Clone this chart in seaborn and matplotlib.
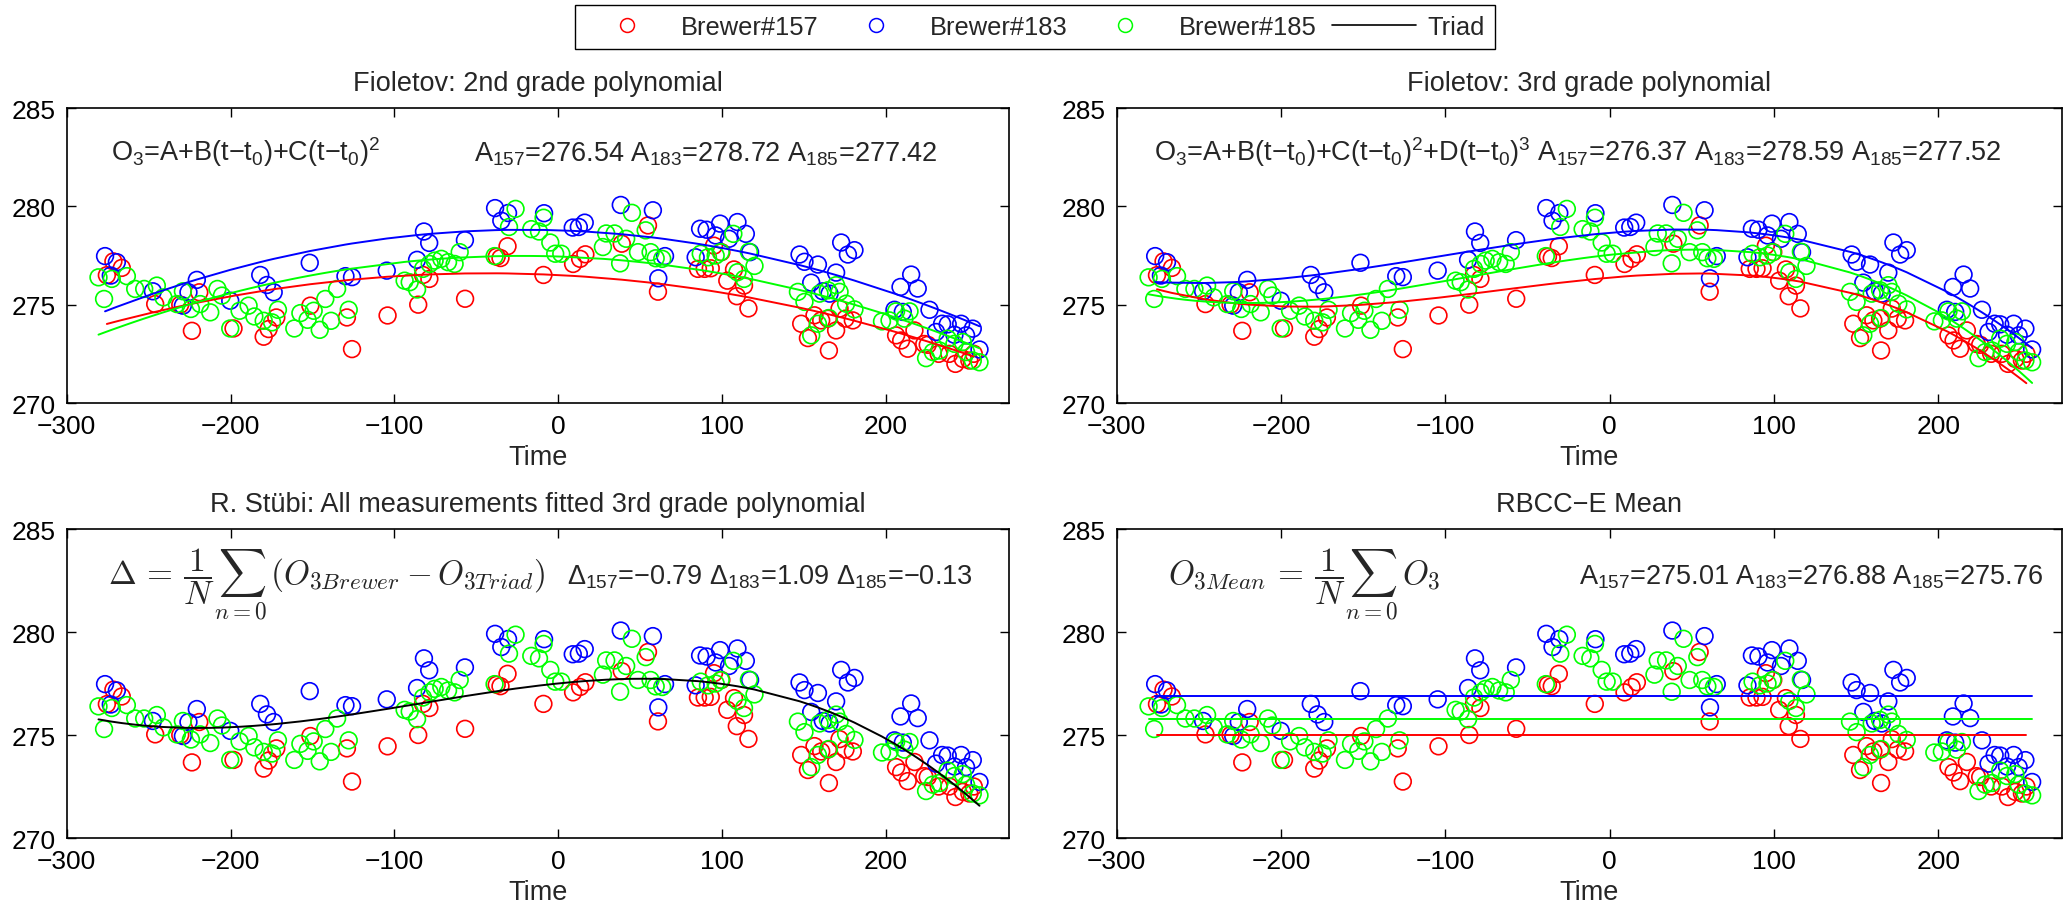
import numpy as np
import matplotlib
matplotlib.use("Agg")
import matplotlib.pyplot as plt
import seaborn as sns
from matplotlib.lines import Line2D

# ----------------------------
# Data
# ----------------------------

t_157 = [-275.5, -271.5, -266.4, -246.0, -230.7, -223.6, -219.1, -198.2, -179.8, -176.8,
         -172.1, -151.3, -129.0, -125.9, -104.2, -85.5, -82.6, -78.7, -56.9, -37.6,
         -35.3, -31.0, -9.1, 9.0, 13.3, 16.5, 38.7, 54.7, 60.8, 85.2,
         89.3, 93.0, 95.0, 99.5, 103.1, 107.2, 108.9, 113.3, 116.0, 148.2,
         152.3, 156.3, 160.4, 164.5, 165.1, 169.5, 171.6, 175.2, 179.7, 206.1,
         209.2, 213.2, 217.3, 223.3, 225.4, 232.1, 238.6, 242.3, 246.8, 250.8,
         253.5]
o3_157 = [276.50, 277.20, 276.87, 275.03, 275.00, 273.67, 275.63, 273.79, 273.37, 273.76,
          274.35, 274.95, 274.35, 272.74, 274.45, 275.00, 276.51, 276.31, 275.30, 277.44,
          277.37, 277.97, 276.51, 277.07, 277.33, 277.56, 278.10, 279.03, 275.66, 276.82,
          276.82, 276.85, 278.00, 277.67, 276.22, 276.79, 275.43, 275.97, 274.81, 274.03,
          273.30, 274.46, 274.20, 274.29, 272.67, 273.69, 274.80, 274.29, 274.20, 273.44,
          273.18, 272.76, 273.69, 273.00, 272.96, 272.50, 272.50, 271.99, 272.24, 272.16,
          272.50]

t_183 = [-276.6, -273.1, -269.4, -247.4, -229.1, -225.7, -220.6, -200.2, -181.9, -177.8,
         -173.7, -151.7, -129.9, -125.9, -104.7, -86.2, -82.0, -78.8, -57.0, -38.6,
         -34.8, -30.7, -8.7, 8.8, 12.5, 16.1, 38.1, 57.7, 61.0, 65.1,
         83.8, 86.5, 90.5, 96.0, 98.7, 104.2, 109.3, 114.4, 117.0, 147.2,
         150.2, 154.3, 158.4, 161.4, 165.5, 169.5, 172.6, 176.7, 180.7, 205.1,
         208.8, 210.2, 215.3, 219.3, 226.5, 230.5, 234.2, 237.6, 241.7, 245.8,
         248.8, 252.9, 257.0]
o3_183 = [277.47, 276.48, 277.16, 275.68, 274.95, 275.63, 276.26, 275.20, 276.51, 276.00,
          275.63, 277.13, 276.45, 276.40, 276.73, 277.28, 278.72, 278.14, 278.28, 279.91,
          279.27, 279.66, 279.65, 278.92, 278.95, 279.17, 280.07, 279.80, 276.34, 277.47,
          277.41, 278.86, 278.81, 278.52, 279.12, 278.35, 279.20, 278.60, 277.67, 277.55,
          277.18, 276.12, 277.04, 275.68, 275.56, 276.63, 278.16, 277.55, 277.77, 274.74,
          275.90, 274.63, 276.53, 275.82, 274.74, 273.61, 274.03, 274.00, 273.47, 274.03,
          273.44, 273.78, 272.72]

t_185 = [-280.6, -277.2, -272.5, -263.3, -258.2, -252.7, -245.0, -241.0, -232.8, -229.1,
         -224.2, -218.5, -212.4, -208.0, -205.3, -200.2, -194.5, -189.0, -185.5, -179.8,
         -174.7, -171.1, -161.1, -157.4, -153.0, -149.3, -145.6, -142.2, -138.7, -135.0,
         -127.9, -93.8, -90.7, -86.2, -82.6, -78.5, -75.5, -71.4, -67.3, -63.3,
         -60.2, -38.9, -30.1, -26.1, -16.5, -11.8, -9.0, -4.9, -1.9, 1.8,
         27.2, 29.2, 34.3, 37.7, 41.4, 44.9, 48.6, 53.3, 56.3, 59.4,
         63.4, 86.9, 91.3, 96.0, 99.1, 106.8, 109.3, 113.3, 116.3, 119.7,
         146.2, 150.2, 154.3, 158.4, 159.4, 164.5, 165.1, 169.5, 171.6, 175.6,
         180.7, 197.5, 202.1, 206.1, 211.2, 214.3, 224.4, 228.5, 232.6, 237.6,
         241.7, 246.8, 248.8, 252.9, 257.0]
o3_185 = [276.39, 275.29, 276.31, 276.45, 275.80, 275.80, 275.97, 275.37, 275.03, 275.68,
          274.78, 275.03, 274.61, 275.80, 275.46, 273.79, 274.69, 274.95, 274.40, 274.18,
          274.10, 274.74, 273.79, 274.57, 274.23, 274.69, 273.72, 275.29, 274.18, 275.80,
          274.74, 276.22, 276.14, 275.77, 276.82, 277.07, 277.24, 277.33, 277.16, 277.07,
          277.67, 277.47, 278.95, 279.87, 278.84, 278.72, 279.42, 278.16, 277.59, 277.59,
          277.93, 278.62, 278.62, 277.10, 278.35, 279.67, 277.67, 278.78, 277.67, 277.36,
          277.33, 277.59, 277.41, 277.50, 277.67, 278.60, 276.65, 276.31, 277.69, 276.97,
          275.65, 275.14, 273.44, 274.03, 275.56, 275.73, 274.32, 275.99, 275.65, 275.05,
          274.76, 274.15, 274.20, 274.66, 274.29, 274.66, 272.28, 272.59, 272.67, 273.27,
          273.01, 273.10, 272.59, 272.16, 272.07]

brewers = ["157", "183", "185"]
colors = ["#ff0000", "#0000ff", "#00ff00"]

# values printed on the panels
a_poly2 = [276.54, 278.72, 277.42]
a_poly3 = [276.37, 278.59, 277.52]
delta_triad = [-0.79, 1.09, -0.13]
a_mean = [275.01, 276.88, 275.76]

titles = ["Fioletov: 2nd grade polynomial",
          "Fioletov: 3rd grade polynomial",
          "R. Stübi: All measurements fitted 3rd grade polynomial",
          "RBCC\u2212E Mean"]

times = [np.array(t_157), np.array(t_183), np.array(t_185)]
values = [np.array(o3_157), np.array(o3_183), np.array(o3_185)]

# ----------------------------
# Style
# ----------------------------

sns.set_style("ticks")
plt.rcParams["font.family"] = ["Liberation Sans", "DejaVu Sans"]
plt.rcParams["mathtext.fontset"] = "custom"
plt.rcParams["mathtext.rm"] = "Liberation Sans"
plt.rcParams["mathtext.it"] = "Liberation Sans:italic"
plt.rcParams["mathtext.bf"] = "Liberation Sans:bold"
plt.rcParams["axes.unicode_minus"] = True

FS = 19.5      # annotations, titles
TS = 19        # tick labels
LS = 18.4      # legend
MS = 24        # latex formulas

fig = plt.figure(figsize=(20.67, 9.12), dpi=100)

W, H = 2067.0, 912.0
col_x = [(66.7, 1009.0), (1116.7, 2061.7)]
row_y = [(109.0, 404.0), (530.0, 839.0)]

axes = []
for r in range(2):
    for c in range(2):
        x0, x1 = col_x[c]
        y0, y1 = row_y[r]
        ax = fig.add_axes([x0 / W, 1 - y1 / H, (x1 - x0) / W, (y1 - y0) / H])
        axes.append(ax)


def draw_points(ax):
    for t, o3, col in zip(times, values, colors):
        sns.scatterplot(x=t, y=o3, ax=ax, s=145, marker="o",
                        facecolors="none", edgecolor=col, linewidth=1.2,
                        legend=False, zorder=2)


def draw_fit(ax, t, o3, deg, col):
    tt = np.sort(t)
    coef = np.polyfit(t, o3, deg)
    sns.lineplot(x=tt, y=np.polyval(coef, tt), ax=ax, color=col,
                 linewidth=1.4, estimator=None, sort=False, zorder=3)


def sub(s):
    return r"$_{\mathregular{" + s + "}}$"


def num(v):
    return ("%.2f" % v).replace("-", "\u2212")


poly_txt = "O" + sub("3") + "=A+B(t\u2212t" + sub("0") + ")+C(t\u2212t" + sub("0") + ")$^{\\mathregular{2}}$"
BASE = 282.35

# ----------------------------
# Panel 1: 2nd grade polynomial
# ----------------------------

ax = axes[0]
draw_points(ax)
for t, o3, col in zip(times, values, colors):
    draw_fit(ax, t, o3, 2, col)
ax.text(-273, BASE, poly_txt, fontsize=FS, va="baseline")
ax.text(-51.6, BASE, " ".join("A" + sub(b) + "=" + num(a) for b, a in zip(brewers, a_poly2)),
        fontsize=FS, va="baseline")

# ----------------------------
# Panel 2: 3rd grade polynomial
# ----------------------------

ax = axes[1]
draw_points(ax)
for t, o3, col in zip(times, values, colors):
    draw_fit(ax, t, o3, 3, col)
ax.text(-277, BASE,
        poly_txt + "+D(t\u2212t" + sub("0") + ")$^{\\mathregular{3}}$ "
        + " ".join("A" + sub(b) + "=" + num(a) for b, a in zip(brewers, a_poly3)),
        fontsize=FS, va="baseline")

# ----------------------------
# Panel 3: Triad, all measurements
# ----------------------------

ax = axes[2]
draw_points(ax)
t_all = np.concatenate(times)
o3_all = np.concatenate(values)
draw_fit(ax, t_all, o3_all, 3, "black")
ax.text(-275, BASE, r"$\Delta\,=\,\dfrac{1}{N}\sum_{n=0}\,(O_{3Brewer} - O_{3Triad})$",
        fontsize=MS, va="baseline", math_fontfamily="cm")
ax.text(252.6, BASE, " ".join("\u0394" + sub(b) + "=" + num(d) for b, d in zip(brewers, delta_triad)),
        fontsize=FS, va="baseline", ha="right")

# ----------------------------
# Panel 4: mean
# ----------------------------

ax = axes[3]
draw_points(ax)
for t, a, col in zip(times, a_mean, colors):
    sns.lineplot(x=[t.min(), t.max()], y=[a, a], ax=ax, color=col,
                 linewidth=1.4, estimator=None, zorder=3)
ax.text(-268.8, BASE, r"$O_{3Mean}\,=\,\dfrac{1}{N}\sum_{n=0}\,O_3$",
        fontsize=MS, va="baseline", math_fontfamily="cm")
ax.text(264, BASE, " ".join("A" + sub(b) + "=" + num(a) for b, a in zip(brewers, a_mean)),
        fontsize=FS, va="baseline", ha="right")

# ----------------------------
# Axes formatting
# ----------------------------

for ax, title in zip(axes, titles):
    ax.set_xlim(-300, 275)
    ax.set_ylim(270, 285)
    ax.set_xticks(np.arange(-300, 201, 100))
    ax.set_yticks([270, 275, 280, 285])
    ax.tick_params(direction="in", top=True, right=True, length=6.5, width=1,
                   labelsize=TS, pad=8, colors="black")
    for sp in ax.spines.values():
        sp.set_linewidth(1.2)
        sp.set_color("black")
    ax.set_xlabel("Time", fontsize=FS, labelpad=4)
    ax.set_ylabel("")
    ax.set_title(title, fontsize=FS, pad=13)

# ----------------------------
# Legend
# ----------------------------

handles = [Line2D([], [], marker="o", linestyle="none", markerfacecolor="none",
                  markeredgecolor=col, markersize=10, markeredgewidth=1.1) for col in colors]
handles.append(Line2D([], [], color="black", linewidth=1.2))
labels = ["Brewer#" + b for b in brewers] + ["Triad"]

leg = fig.legend(handles, labels, loc="upper center", bbox_to_anchor=(0.5007, 1 - 6 / H),
                 ncol=4, fontsize=LS, frameon=True, fancybox=False, handlelength=3.3,
                 handletextpad=0.45, columnspacing=0.6, borderpad=0.4, borderaxespad=0)
leg.get_frame().set_edgecolor("black")
leg.get_frame().set_linewidth(1.0)
leg.get_frame().set_alpha(1)

fig.savefig("out.png", dpi=100)
